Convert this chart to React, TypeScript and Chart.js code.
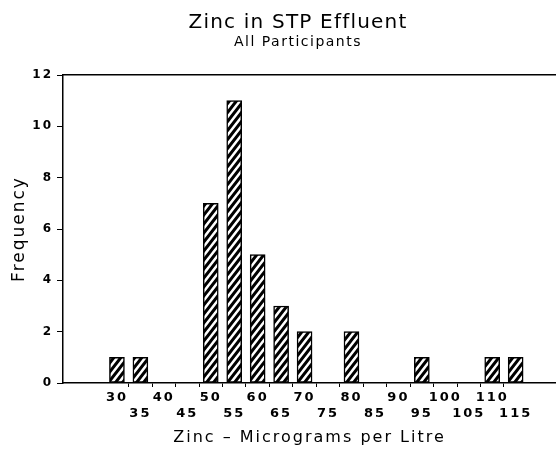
import React, { useEffect, useRef } from "react";
import { Chart, registerables } from "chart.js";

Chart.register(...registerables);

const TITLE = "Zinc in STP Effluent";
const SUBTITLE = "All Participants";
const X_TITLE = "Zinc \u2013 Micrograms per Litre";
const Y_TITLE = "Frequency";

const binCentres = [30, 35, 50, 55, 60, 65, 70, 80, 95, 110, 115];
const frequencies = [1, 1, 7, 11, 5, 3, 2, 2, 1, 1, 1];
const xLabelValues = [30, 35, 40, 45, 50, 55, 60, 65, 70, 75, 80, 85, 90, 95, 100, 105, 110, 115];
const xEdgeValues = [32.5, 37.5, 42.5, 47.5, 52.5, 57.5, 62.5, 67.5, 72.5, 77.5, 82.5, 87.5, 92.5, 97.5, 102.5, 107.5, 112.5];
const yTickValues = [0, 2, 4, 6, 8, 10, 12];

const FONT = "'DejaVu Sans', sans-serif";

function makeHatch(): CanvasPattern | string {
  const a = 7;
  const b = 9;
  const c = document.createElement("canvas");
  c.width = a;
  c.height = b;
  const g = c.getContext("2d");
  if (!g) return "#000";
  g.fillStyle = "#fff";
  g.fillRect(0, 0, a, b);
  g.strokeStyle = "#000";
  g.lineWidth = 3;
  g.beginPath();
  for (let k = -2; k <= 2; k++) {
    g.moveTo(k * a - a, 2 * b);
    g.lineTo(k * a + 2 * a, -b);
  }
  g.stroke();
  const p = g.createPattern(c, "repeat");
  return p || "#000";
}

const textPlugin = {
  id: "plotTitles",
  beforeDraw(chart: any) {
    (chart.ctx as any).letterSpacing = "2px";
  },
  afterDraw(chart: any) {
    const ctx = chart.ctx;
    ctx.save();
    ctx.fillStyle = "#000";
    ctx.textAlign = "center";
    ctx.textBaseline = "middle";
    ctx.letterSpacing = "1.2px";
    ctx.font = `20px ${FONT}`;
    ctx.fillText(TITLE, 298, 23);
    ctx.letterSpacing = "1.5px";
    ctx.font = `14px ${FONT}`;
    ctx.fillText(SUBTITLE, 298, 42);
    ctx.restore();
  },
};

export default function App() {
  const ref = useRef<HTMLCanvasElement | null>(null);
  useEffect(() => {
    if (!ref.current) return;
    const hatch = makeHatch();
    const isEdge = (v: number) => Math.abs(v - Math.round(v)) > 0.1;
    const chart = new Chart(ref.current, {
      type: "bar",
      data: {
        datasets: [
          {
            data: binCentres.map((x, i) => ({ x, y: frequencies[i] })),
            backgroundColor: hatch as any,
            borderColor: "#000",
            borderWidth: 1.5,
            borderSkipped: false,
            barThickness: 15,
          },
        ],
      },
      options: {
        animation: false,
        responsive: false,
        devicePixelRatio: 1,
        layout: { padding: { top: 75, right: 0, left: 0, bottom: 0 } },
        plugins: { legend: { display: false }, tooltip: { enabled: false }, title: { display: false } },
        scales: {
          x: {
            type: "linear",
            position: "bottom",
            offset: false,
            min: 18.5,
            max: 123.6,
            afterBuildTicks: (scale: any) => {
              const all = [...xLabelValues, ...xEdgeValues].sort((p, q) => p - q);
              scale.ticks = all.map((v) => ({ value: v }));
            },
            afterFit: (scale: any) => {
              scale.height = 71;
            },
            ticks: {
              autoSkip: false,
              maxRotation: 0,
              minRotation: 0,
              padding: 3,
              color: "#000",
              font: { family: FONT, size: 13, weight: "bold", lineHeight: "16px" },
              callback: (value: any) => {
                const v = Number(value);
                if (isEdge(v)) return "";
                const idx = Math.round((v - 30) / 5);
                return idx % 2 === 0 ? [String(v), ""] : ["", String(v)];
              },
            },
            grid: {
              display: true,
              offset: false,
              drawOnChartArea: false,
              drawTicks: true,
              tickLength: 4,
              color: (ctx: any) => (ctx.tick && isEdge(ctx.tick.value) ? "#000" : "rgba(0,0,0,0)"),
              lineWidth: 1,
            },
            border: { display: true, color: "#000", width: 1.5 },
            title: {
              display: true,
              text: X_TITLE,
              color: "#000",
              font: { family: FONT, size: 16 },
              padding: { top: 0, bottom: 7 },
            },
          },
          xTop: {
            type: "linear",
            position: "top",
            min: 18.5,
            max: 123.6,
            ticks: { display: false },
            grid: { display: false },
            border: { display: true, color: "#000", width: 1.5 },
            afterFit: (scale: any) => {
              scale.height = 0;
            },
          },
          y: {
            type: "linear",
            min: 0,
            max: 12,
            afterBuildTicks: (scale: any) => {
              scale.ticks = yTickValues.map((v) => ({ value: v }));
            },
            afterFit: (scale: any) => {
              scale.width = 63;
            },
            ticks: {
              padding: 4,
              color: "#000",
              font: { family: FONT, size: 12, weight: "bold" },
            },
            grid: { display: true, drawOnChartArea: false, drawTicks: true, tickLength: 6, color: "#000", lineWidth: 1 },
            border: { display: true, color: "#000", width: 1.5 },
            title: {
              display: true,
              text: Y_TITLE,
              color: "#000",
              font: { family: FONT, size: 17 },
              padding: { top: 9, bottom: 0 },
            },
          },
        },
      },
      plugins: [textPlugin],
    });
    return () => chart.destroy();
  }, []);
  return (
    <div style={{ position: "absolute", left: 0, top: 0, width: 556, height: 454, background: "#fff" }}>
      <canvas ref={ref} width={556} height={454} style={{ display: "block", width: 556, height: 454 }} />
    </div>
  );
}
